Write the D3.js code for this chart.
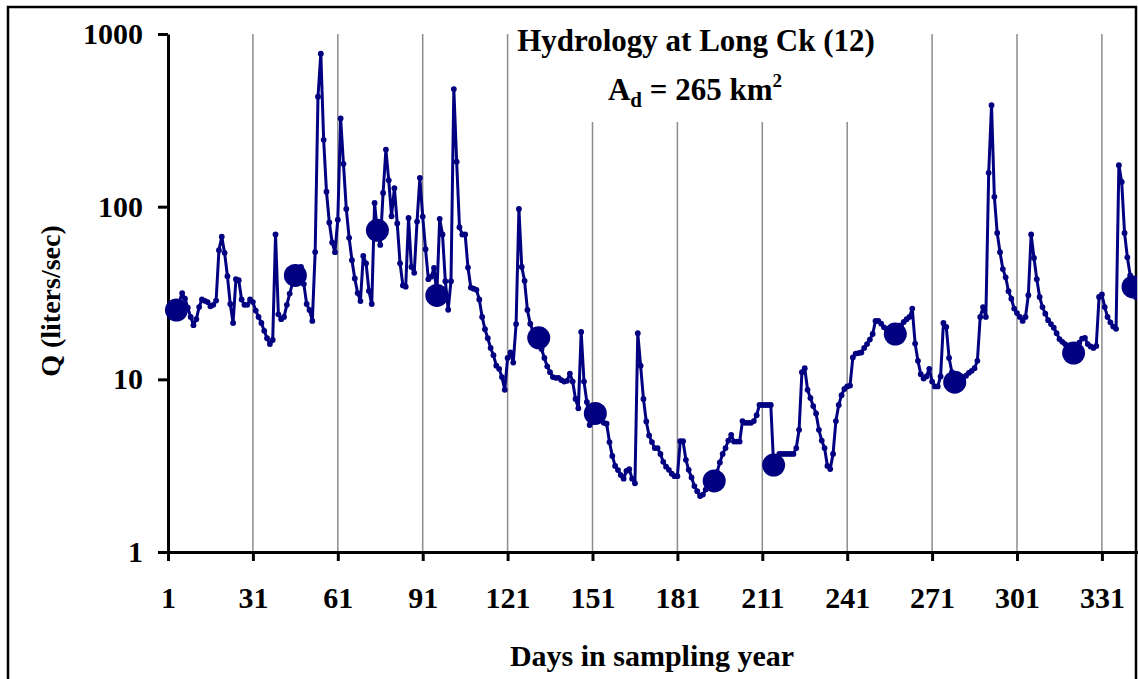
<!DOCTYPE html>
<html>
<head>
<meta charset="utf-8">
<script src="https://cdn.jsdelivr.net/npm/d3@7"></script>
<style>
  body { margin: 0; background: #fff; }
  svg { display: block; font-family: "Liberation Serif", "Times New Roman", serif; font-weight: bold; }
</style>
</head>
<body>
<svg id="chart" width="1138" height="679"></svg>
<script>
// daily discharge Q (liters/sec), starting at day 1
const firstDay = 1;
const flow = [
  25, 25, 25.5, 26, 28, 31.6, 29.3, 26, 23, 20.6,
  22.3, 26.2, 29, 28.5, 28, 26.5, 27, 28.6, 56, 67,
  54, 39.6, 27.3, 21.2, 38, 37.5, 29, 27, 27, 29,
  28, 25, 23, 21.2, 19.1, 17.3, 16, 16.9, 69, 23.8,
  22.3, 23, 27, 31.4, 36, 40, 44, 44.8, 35.6, 27.3,
  25.2, 21.8, 54.6, 433, 769, 244, 122, 81, 62, 54.5,
  84, 324, 177, 97, 66, 49, 38.4, 31.6, 28.4, 51.8,
  47, 32.5, 27.3, 105, 70, 60, 120, 214, 142, 88,
  128, 80, 47, 35, 34.4, 86, 44.8, 41.4, 82, 147,
  87.6, 56.7, 38, 39.3, 44.2, 31, 85, 69, 37, 25.3,
  37, 480, 182, 76, 69, 69, 44.4, 34, 33.5, 33,
  29, 23, 19.5, 17.3, 15.2, 13.8, 12, 11.5, 10.3, 8.7,
  13.3, 14.3, 12.5, 20.9, 97, 44.8, 37.2, 25.2, 21, 19,
  18, 17.4, 15, 13.3, 11.9, 11, 10.3, 10.2, 10.2, 9.9,
  9.7, 9.8, 10.8, 9.7, 7.7, 6.8, 18.8, 9.7, 7.4, 5.44,
  5.67, 6.35, 6.0, 5.8, 5.6, 5.53, 4.33, 3.6, 3.15, 2.98,
  2.79, 2.66, 2.95, 3.02, 2.66, 2.5, 18.5, 12, 7.7, 5.7,
  4.73, 4.33, 4.0, 4.0, 3.7, 3.33, 3.12, 2.99, 2.84, 2.75,
  2.75, 4.38, 4.38, 3.42, 2.99, 2.7, 2.41, 2.25, 2.11, 2.15,
  2.3, 2.4, 2.5, 2.58, 2.9, 3.3, 3.7, 4.0, 4.42, 4.77,
  4.36, 4.36, 4.36, 5.73, 5.6, 5.6, 5.6, 5.73, 6.2, 7.1,
  7.1, 7.1, 7.1, 7.1, 3.19, 3.5, 3.7, 3.7, 3.7, 3.7,
  3.7, 3.7, 4.0, 5.1, 11, 11.6, 8.7, 7.8, 7.0, 6.35,
  5.1, 4.42, 4.0, 3.15, 3.02, 3.7, 5.73, 7.1, 8.1, 8.8,
  9.1, 9.2, 13.4, 14.1, 14.2, 14.3, 15.2, 16, 17, 18.3,
  21.8, 21.8, 21, 20, 19.5, 19, 18.6, 18.3, 19.5, 20.5,
  21.5, 22.3, 23, 25.7, 16.1, 12.8, 10.7, 10.1, 10.4, 11.5,
  9.7, 9.1, 9.1, 10.4, 21.2, 20.1, 13.3, 11, 9.63, 9.8,
  10, 10.2, 10.5, 10.9, 11.2, 11.6, 12.8, 23, 26.2, 23,
  157, 387, 114, 70.5, 54.5, 43.5, 39, 32.4, 29.3, 25.7,
  24.2, 23, 21.8, 23, 30.7, 69, 50.5, 38, 30, 26.2,
  24, 22, 20.9, 19.9, 18.5, 17.1, 16.5, 16, 15.5, 15,
  14.2, 15.5, 16.3, 17.2, 17.4, 16, 15.5, 15.2, 15.6, 30,
  31, 26.2, 23, 21.4, 20.2, 19.6, 174, 139, 70.5, 50.9,
  40, 34.3, 30
];

// sampling dates (big dots)
const sampleDays = [4, 46, 75, 96, 132, 152, 194, 215, 258, 279, 321, 342];
const sampleQ    = [25.2, 40, 73, 30.6, 17.4, 6.35, 2.58, 3.19, 18.3, 9.63, 14.2, 34.3];

const xTicks = [1, 31, 61, 91, 121, 151, 181, 211, 241, 271, 301, 331];
const yTicks = [1, 10, 100, 1000];

const navy = "#000080";

const svg = d3.select("#chart");

// scales
const x = d3.scaleLinear().domain([1, 366]).range([168, 168 + 365 * 2.83]);
const y = d3.scaleLog().domain([1, 1000]).range([552, 34]);

const series = flow.map((q, i) => ({ day: firstDay + i, q }));
const samples = sampleDays.map((d, i) => ({ day: d, q: sampleQ[i] }));

// outer frame
svg.append("rect")
  .attr("x", 8).attr("y", 7)
  .attr("width", 1128).attr("height", 700)
  .attr("fill", "none")
  .attr("stroke", "#000")
  .attr("stroke-width", 2.5);

// clip for the plot
svg.append("defs").append("clipPath")
  .attr("id", "plot-clip")
  .append("rect")
    .attr("x", 150).attr("y", 0)
    .attr("width", 1137 - 150).attr("height", 560);

// vertical grid lines
svg.append("g")
  .selectAll("line")
  .data(xTicks.slice(1))
  .join("line")
    .attr("x1", d => x(d)).attr("x2", d => x(d))
    .attr("y1", y(1000)).attr("y2", y(1))
    .attr("stroke", "#8c8c8c")
    .attr("stroke-width", 1.5);

// title box (white fill hides grid lines)
svg.append("rect")
  .attr("x", 518).attr("y", 30)
  .attr("width", 390).attr("height", 92)
  .attr("fill", "#fff");

svg.append("text")
  .attr("x", 696)
  .attr("y", 51)
  .attr("text-anchor", "middle")
  .style("font-size", "31px")
  .text("Hydrology at Long Ck (12)");

const t2 = svg.append("text")
  .attr("x", 695)
  .attr("y", 100)
  .attr("text-anchor", "middle")
  .style("font-size", "31px");
t2.append("tspan").text("A");
t2.append("tspan").attr("dy", 7).style("font-size", "21px").text("d");
t2.append("tspan").attr("dy", -7).text(" = 265 km");
t2.append("tspan").attr("dy", -13).style("font-size", "19px").text("2");

// axes
const yAxis = svg.append("g")
  .attr("transform", `translate(${x(1)},0)`)
  .call(d3.axisLeft(y)
    .tickValues(yTicks)
    .tickFormat(d3.format("d"))
    .tickSize(10)
    .tickSizeOuter(0)
    .tickPadding(15));

const xAxis = svg.append("g")
  .attr("transform", `translate(0,${y(1)})`)
  .call(d3.axisBottom(x)
    .tickValues(xTicks)
    .tickFormat(d3.format("d"))
    .tickSize(9)
    .tickSizeOuter(0)
    .tickPadding(26));

[yAxis, xAxis].forEach(a => {
  a.attr("font-family", null).attr("font-size", null);
  a.select(".domain").attr("stroke", "#000").attr("stroke-width", 3);
  a.selectAll(".tick line").attr("stroke", "#000").attr("stroke-width", 3);
  a.selectAll(".tick text")
    .attr("fill", "#000")
    .style("font-size", "30px")
    .style("font-weight", "bold");
});

// data
const plot = svg.append("g").attr("clip-path", "url(#plot-clip)");

plot.append("path")
  .datum(series)
  .attr("d", d3.line().x(d => x(d.day)).y(d => y(d.q)))
  .attr("fill", "none")
  .attr("stroke", navy)
  .attr("stroke-width", 3)
  .attr("stroke-linejoin", "round");

plot.append("g")
  .selectAll("circle")
  .data(series)
  .join("circle")
    .attr("cx", d => x(d.day))
    .attr("cy", d => y(d.q))
    .attr("r", 2.9)
    .attr("fill", navy);

plot.append("g")
  .selectAll("circle")
  .data(samples)
  .join("circle")
    .attr("cx", d => x(d.day))
    .attr("cy", d => y(d.q))
    .attr("r", 11.5)
    .attr("fill", navy);

// axis titles
svg.append("text")
  .attr("transform", "translate(60,301) rotate(-90)")
  .attr("text-anchor", "middle")
  .style("font-size", "28px")
  .text("Q (liters/sec)");

svg.append("text")
  .attr("x", 652)
  .attr("y", 666)
  .attr("text-anchor", "middle")
  .style("font-size", "30px")
  .text("Days in sampling year");
</script>
</body>
</html>
